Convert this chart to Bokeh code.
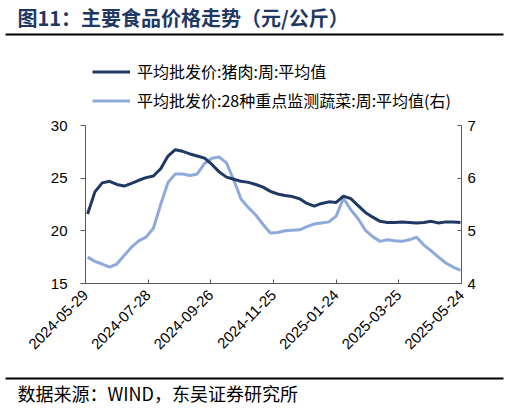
import math
import pandas as pd
from bokeh.plotting import figure
from bokeh.layouts import column
from bokeh.models import (Range1d, LinearAxis, FixedTicker, DatetimeTickFormatter,
                          Label, Legend, LegendItem, ColumnDataSource)
from bokeh.embed import file_html
from bokeh.resources import INLINE

# ---------------- data ----------------
dates = pd.date_range(start="2024-05-31", periods=52, freq="7D")

pork = [21.6, 23.7, 24.55, 24.7, 24.4, 24.25, 24.5, 24.8, 25.05, 25.2,
        25.9, 27.1, 27.7, 27.55, 27.3, 27.1, 26.9, 26.3, 25.6, 25.1,
        24.9, 24.7, 24.6, 24.4, 24.15, 23.75, 23.5, 23.35, 23.25, 23.05,
        22.6, 22.35, 22.6, 22.75, 22.7, 23.3, 23.05, 22.4, 21.75, 21.3,
        20.9, 20.8, 20.8, 20.85, 20.8, 20.75, 20.8, 20.9, 20.75, 20.85,
        20.85, 20.8]

veg = [4.50, 4.42, 4.37, 4.31, 4.37, 4.53, 4.69, 4.81, 4.88, 5.05,
       5.50, 5.92, 6.08, 6.08, 6.05, 6.08, 6.28, 6.38, 6.40, 6.29,
       5.96, 5.60, 5.44, 5.30, 5.12, 4.96, 4.97, 5.00, 5.01, 5.02,
       5.08, 5.13, 5.15, 5.17, 5.28, 5.62, 5.40, 5.23, 5.01, 4.89,
       4.80, 4.83, 4.81, 4.80, 4.83, 4.88, 4.73, 4.62, 4.50, 4.39,
       4.31, 4.25]

x_tick_labels = ["2024-05-29", "2024-07-28", "2024-09-26", "2024-11-25",
                 "2025-01-24", "2025-03-25", "2025-05-24"]
left_ticks = [15, 20, 25, 30]
right_ticks = [4, 5, 6, 7]

title_text = "图11：主要食品价格走势（元/公斤）"
legend_labels = ["平均批发价:猪肉:周:平均值", "平均批发价:28种重点监测蔬菜:周:平均值(右)"]
source_text = "数据来源：WIND，东吴证券研究所"

# ---------------- styling ----------------
PORK_COLOR = "#1F3864"
VEG_COLOR = "#8EAADB"
TITLE_COLOR = "#1F3864"
AX_COLOR = "#595959"
CJK = "Noto Sans CJK SC"
NUM = "Liberation Sans"
W = 509
HEAD_H, MAIN_H, FOOT_H = 115, 255, 43


def bare_fig(h):
    f = figure(width=W, height=h, x_range=Range1d(0, W), y_range=Range1d(0, h),
               x_axis_type=None, y_axis_type=None, output_backend="svg",
               toolbar_location=None, min_border=0)
    f.frame_align = False
    f.outline_line_color = None
    f.xgrid.visible = False
    f.ygrid.visible = False
    return f


def rule(f, y_from_top, h):
    f.line([5, W - 6], [h - y_from_top, h - y_from_top],
           line_color="black", line_width=2)


# ---------------- header: title, rule, legend ----------------
head = bare_fig(HEAD_H)
head.add_layout(Label(x=17, y=HEAD_H - 17, text=title_text, text_font=CJK,
                      text_font_size="20px", text_font_style="bold",
                      text_color=TITLE_COLOR, text_baseline="middle"))
rule(head, 34, HEAD_H)
lg_pork = head.line([-100, -90], [-100, -90], line_color=PORK_COLOR, line_width=3)
lg_veg = head.line([-100, -90], [-100, -90], line_color=VEG_COLOR, line_width=3)
legend = Legend(items=[LegendItem(label=legend_labels[0], renderers=[lg_pork]),
                       LegendItem(label=legend_labels[1], renderers=[lg_veg])],
                location=(92, 3), orientation="vertical",
                glyph_width=38, glyph_height=15, label_height=15,
                label_standoff=7, spacing=5, padding=0, margin=0,
                border_line_color=None, background_fill_alpha=0,
                label_text_font=CJK, label_text_font_size="16px",
                label_text_color="#000000")
head.add_layout(legend, "center")

# ---------------- main chart ----------------
tick_ms = [pd.Timestamp(t).value / 1e6 for t in x_tick_labels]

p = figure(width=W, height=MAIN_H, x_axis_type="datetime",
           x_range=Range1d(tick_ms[0], tick_ms[-1]),
           y_range=Range1d(left_ticks[0], left_ticks[-1]),
           output_backend="svg", toolbar_location=None,
           min_border_left=85, min_border_right=48,
           min_border_top=10, min_border_bottom=87)
p.frame_width = 376
p.frame_height = 158
p.frame_align = False
p.extra_y_ranges = {"veg": Range1d(right_ticks[0], right_ticks[-1])}
p.outline_line_color = None
p.xgrid.visible = False
p.ygrid.visible = False

src = ColumnDataSource(dict(date=dates, pork=pork, veg=veg))
p.line("date", "veg", source=src, y_range_name="veg",
       line_color=VEG_COLOR, line_width=3)
p.line("date", "pork", source=src, line_color=PORK_COLOR, line_width=3)


def style_axis(ax, tick_in, tick_out, standoff):
    ax.axis_line_color = AX_COLOR
    ax.major_tick_line_color = AX_COLOR
    ax.minor_tick_line_color = None
    ax.major_tick_out = tick_out
    ax.major_tick_in = tick_in
    ax.major_label_standoff = standoff
    ax.major_label_text_font = NUM
    ax.major_label_text_font_size = "15px"
    ax.major_label_text_color = "#000000"


yl = p.yaxis[0]
yl.ticker = FixedTicker(ticks=left_ticks)
style_axis(yl, 0, 5, 13)

yr = LinearAxis(y_range_name="veg", ticker=FixedTicker(ticks=right_ticks))
style_axis(yr, 4, 0, 6)
p.add_layout(yr, "right")

xb = p.xaxis[0]
xb.ticker = FixedTicker(ticks=tick_ms)
xb.formatter = DatetimeTickFormatter(days="%Y-%m-%d", months="%Y-%m-%d",
                                     years="%Y-%m-%d")
style_axis(xb, 4, 0, 9)
xb.major_label_orientation = math.pi / 4

# ---------------- footer: rule + source ----------------
foot = bare_fig(FOOT_H)
rule(foot, 8, FOOT_H)
foot.add_layout(Label(x=17, y=FOOT_H - 22, text=source_text, text_font=CJK,
                      text_font_size="18px", text_color="#000000",
                      text_baseline="middle"))

layout = column(head, p, foot, spacing=0)
open("out.html", "w").write(file_html(layout, INLINE))
